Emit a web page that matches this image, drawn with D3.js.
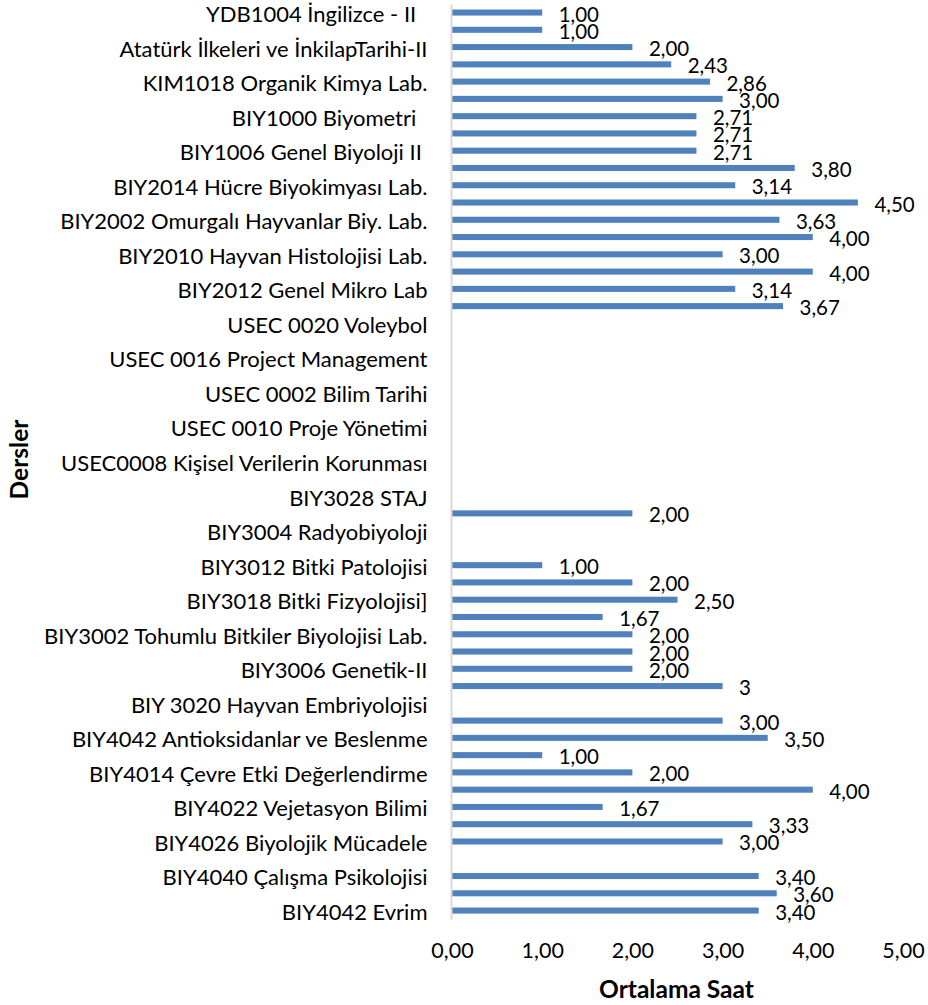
<!DOCTYPE html>
<html>
<head>
<meta charset="utf-8">
<script src="https://cdn.jsdelivr.net/npm/d3@7"></script>
<style>
  body { margin: 0; background: #fff; }
  text { font-family: Lato, "Open Sans", sans-serif; fill: #000; white-space: pre; }
</style>
</head>
<body>
<div id="chart"></div>
<script>
const WIDTH = 928;
const HEIGHT = 1005;

// course names, only every other one is printed on the axis (null = not shown)
const courses = [
  "YDB1004 İngilizce - II  ", null,
  "Atatürk İlkeleri ve İnkilapTarihi-II", null,
  "KIM1018 Organik Kimya Lab.", null,
  "BIY1000 Biyometri  ", null,
  "BIY1006 Genel Biyoloji II ", null,
  "BIY2014 Hücre Biyokimyası Lab.", null,
  "BIY2002 Omurgalı Hayvanlar Biy. Lab.", null,
  "BIY2010 Hayvan Histolojisi Lab.", null,
  "BIY2012 Genel Mikro Lab", null,
  "USEC 0020 Voleybol", null,
  "USEC 0016 Project Management", null,
  "USEC 0002 Bilim Tarihi", null,
  "USEC 0010 Proje Yönetimi", null,
  "USEC0008 Kişisel Verilerin Korunması", null,
  "BIY3028 STAJ", null,
  "BIY3004 Radyobiyoloji", null,
  "BIY3012 Bitki Patolojisi", null,
  "BIY3018 Bitki Fizyolojisi]", null,
  "BIY3002 Tohumlu Bitkiler Biyolojisi Lab.", null,
  "BIY3006 Genetik-II", null,
  "BIY 3020 Hayvan Embriyolojisi", null,
  "BIY4042 Antioksidanlar ve Beslenme", null,
  "BIY4014 Çevre Etki Değerlendirme", null,
  "BIY4022 Vejetasyon Bilimi", null,
  "BIY4026 Biyolojik Mücadele", null,
  "BIY4040 Çalışma Psikolojisi", null,
  "BIY4042 Evrim"
];

// ortalama saat per course (null = no bar)
const hours = [
  1.00, 1.00, 2.00, 2.43, 2.86, 3.00, 2.71, 2.71, 2.71, 3.80,
  3.14, 4.50, 3.63, 4.00, 3.00, 4.00, 3.14, 3.67, null, null,
  null, null, null, null, null, null, null, null, null, 2.00,
  null, null, 1.00, 2.00, 2.50, 1.67, 2.00, 2.00, 2.00, 3,
  null, 3.00, 3.50, 1.00, 2.00, 4.00, 1.67, 3.33, 3.00, null,
  3.40, 3.60, 3.40
];

// this one cell was stored without number format in the sheet
const plainLabels = [39];

const xTicks = [0, 1, 2, 3, 4, 5];

const plot = { left: 452, right: 903, top: 3.9, bottom: 919.2 };

const svg = d3.select('#chart')
  .append('svg')
    .attr('width', WIDTH)
    .attr('height', HEIGHT);

const x = d3.scaleLinear()
  .domain([0, 5])
  .range([plot.left, plot.right]);

const y = d3.scaleBand()
  .domain(d3.range(courses.length))
  .range([plot.top, plot.bottom])
  .paddingInner(0.65)
  .paddingOuter(0.325);

const comma = d => d3.format('.2f')(d).replace('.', ',');

// bars
const rows = hours.map((v, i) => ({ i, v })).filter(d => d.v != null);

svg.append('g')
  .selectAll('rect')
  .data(rows)
  .enter().append('rect')
    .attr('x', x(0))
    .attr('y', d => y(d.i))
    .attr('width', d => x(d.v) - x(0))
    .attr('height', y.bandwidth())
    .attr('fill', '#4F81BD');

// value labels
svg.append('g')
  .selectAll('text')
  .data(rows)
  .enter().append('text')
    .attr('x', d => x(d.v) + 16.5)
    .attr('y', d => y(d.i) + y.bandwidth() / 2 + 9)
    .style('font-size', '20.5px')
    .text(d => plainLabels.includes(d.i) ? String(d.v) : comma(d.v));

// category axis
const yAxis = svg.append('g')
  .attr('transform', `translate(${plot.left - 1},0)`)
  .call(d3.axisLeft(y)
    .tickValues(d3.range(courses.length).filter(i => courses[i]))
    .tickFormat(i => courses[i])
    .tickSize(0)
    .tickSizeOuter(0)
    .tickPadding(23.5));

yAxis.select('.domain')
  .attr('stroke', '#d9d9d9')
  .attr('stroke-width', 2);
yAxis.selectAll('text')
  .attr('dy', '0.43em')
  .style('font-size', '22px')
  .style('font-family', 'Lato, sans-serif')
  .attr('fill', '#000');

// value axis, labels only
const xAxis = svg.append('g')
  .attr('transform', `translate(0,${plot.bottom})`)
  .call(d3.axisBottom(x)
    .tickValues(xTicks)
    .tickFormat(comma)
    .tickSize(0)
    .tickPadding(23.5));

xAxis.select('.domain').remove();
xAxis.selectAll('text')
  .style('font-size', '21.5px')
  .style('font-family', 'Lato, sans-serif')
  .attr('fill', '#000');

// axis titles
svg.append('text')
  .attr('x', 676.5)
  .attr('y', 998)
  .attr('text-anchor', 'middle')
  .style('font-size', '24.5px')
  .style('font-weight', 'bold')
  .text('Ortalama Saat');

svg.append('text')
  .attr('transform', 'translate(28,459.5) rotate(-90)')
  .attr('text-anchor', 'middle')
  .style('font-size', '24.5px')
  .style('font-weight', 'bold')
  .text('Dersler');
</script>
</body>
</html>
